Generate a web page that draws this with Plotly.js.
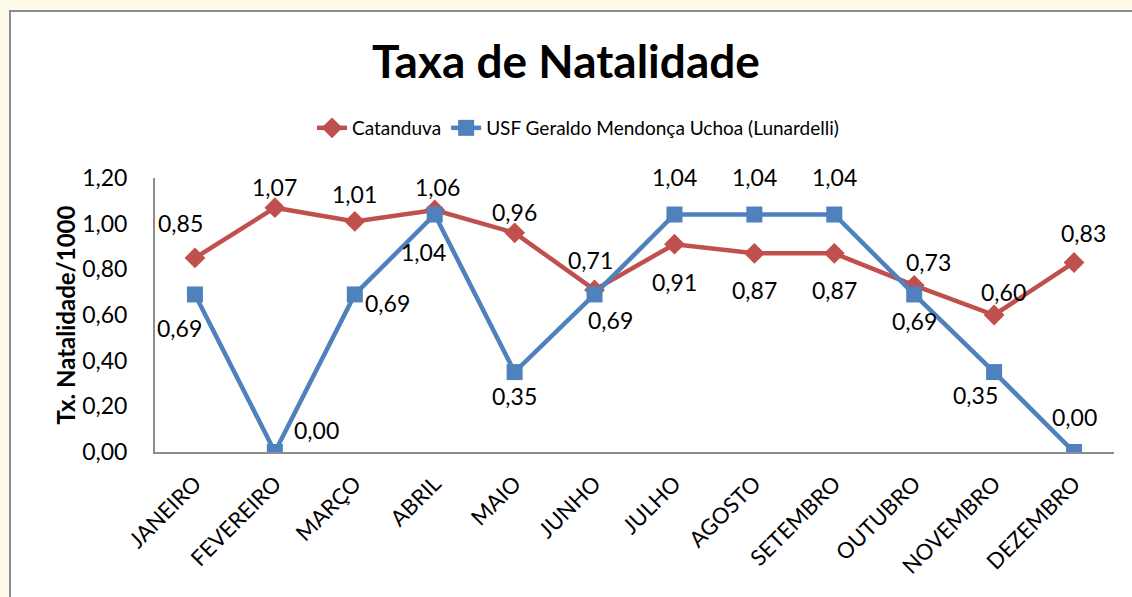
<!DOCTYPE html>
<html>
<head>
<meta charset="utf-8">
<script src="https://cdn.plot.ly/plotly-3.0.1.min.js"></script>
<style>
  html, body { margin: 0; padding: 0; width: 1132px; height: 597px; overflow: hidden; background: #fffbea; }
  #frame { position: absolute; left: 9px; top: 10px; width: 1123px; height: 587px; border-top: 2px solid #8c8c8c; border-left: 2px solid #8c8c8c; background: #ffffff; }
  #chart { width: 1121px; height: 585px; }
</style>
</head>
<body>
<div id="frame"><div id="chart"></div></div>
<script>
const months = ["JANEIRO", "FEVEREIRO", "MARÇO", "ABRIL", "MAIO", "JUNHO", "JULHO", "AGOSTO", "SETEMBRO", "OUTUBRO", "NOVEMBRO", "DEZEMBRO"];
const catanduva = [0.85, 1.07, 1.01, 1.06, 0.96, 0.71, 0.91, 0.87, 0.87, 0.73, 0.60, 0.83];
const usf = [0.69, 0.00, 0.69, 1.04, 0.35, 0.69, 1.04, 1.04, 1.04, 0.69, 0.35, 0.00];
const seriesNames = ["Catanduva", "USF Geraldo Mendonça Uchoa (Lunardelli)"];
const yTicks = [0, 0.2, 0.4, 0.6, 0.8, 1.0, 1.2];

// label offsets in pixels (dx right, dy down)
const catDx = [-14, 0, 0, 3, 0, -4, 0, 0, 0, 14, 9, 9];
const catDy = [-35, -21, -27, -23, -21, -30, 38, 37, 37, -23, -23, -29];
const usfDx = [-15, 42, 33, -11, 0, 16, 0, 0, 0, 0, -19, 0];
const usfDy = [34, -22, 9, 37, 24, 26, -38, -38, -38, 27, 23, -35];

const red = "#C0504D";
const blue = "#4F81BD";
const fmt = v => v.toFixed(2).replace(".", ",");
const FONT = "Lato, sans-serif";

const traces = [
  {
    x: months, y: catanduva, name: seriesNames[0], type: "scatter", mode: "lines+markers",
    line: { color: red, width: 4.5 },
    marker: { symbol: "diamond", size: 16, color: red },
    hoverinfo: "skip"
  },
  {
    x: months, y: usf, name: seriesNames[1], type: "scatter", mode: "lines+markers",
    line: { color: blue, width: 4.5 },
    marker: { symbol: "square", size: 16, color: blue },
    hoverinfo: "skip"
  }
];

const annotations = [];
months.forEach((m, i) => {
  annotations.push({ x: m, y: catanduva[i], text: fmt(catanduva[i]), showarrow: false,
    xshift: catDx[i], yshift: -catDy[i], font: { family: FONT, size: 23, color: "#000" } });
  annotations.push({ x: m, y: usf[i], text: fmt(usf[i]), showarrow: false,
    xshift: usfDx[i], yshift: -usfDy[i], font: { family: FONT, size: 23, color: "#000" } });
});

const layout = {
  width: 1121, height: 585,
  margin: { l: 144, r: 18, t: 166, b: 145, autoexpand: false },
  paper_bgcolor: "#ffffff", plot_bgcolor: "#ffffff",
  separators: ",.",
  font: { family: FONT, color: "#000" },
  title: { text: "<b>Taxa de Natalidade</b>", x: (566 - 11) / 1121, xref: "container", xanchor: "center",
    y: 1 - 50 / 585, yref: "container", yanchor: "middle",
    font: { family: FONT, size: 46, color: "#000" } },
  showlegend: true,
  legend: { orientation: "h", xref: "paper", x: (567 - 144) / 959, xanchor: "center", y: 1 + 50 / 274, yanchor: "middle",
    font: { family: FONT, size: 19, color: "#000" }, traceorder: "normal" },
  xaxis: {
    type: "category", categoryorder: "array", categoryarray: months,
    range: [-0.5, 11.5], showgrid: false, zeroline: false,
    showline: true, linecolor: "#8c8c8c", linewidth: 2,
    ticks: "", tickangle: -45, tickfont: { family: FONT, size: 22, color: "#000" },
    ticklabelstandoff: 8, automargin: false,
    fixedrange: true
  },
  yaxis: {
    range: [0, 1.2], tickvals: yTicks, tickformat: ".2f", showgrid: false, zeroline: false,
    showline: true, linecolor: "#8c8c8c", linewidth: 2, ticks: "",
    tickfont: { family: FONT, size: 23, color: "#000" }, ticklabelstandoff: 21, automargin: false,
    title: { text: "<b>Tx. Natalidade/1000</b>", standoff: 0, font: { family: FONT, size: 24, color: "#000" } },
    fixedrange: true
  },
  annotations: annotations
};

Plotly.newPlot("chart", traces, layout, { displayModeBar: false, staticPlot: true });
</script>
</body>
</html>
